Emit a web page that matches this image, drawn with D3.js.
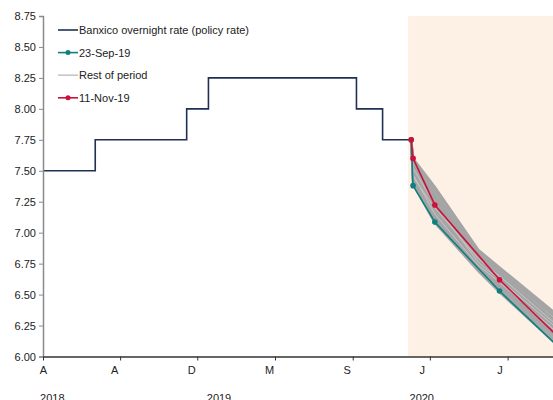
<!DOCTYPE html>
<html><head><meta charset="utf-8">
<script src="https://cdn.jsdelivr.net/npm/d3@7"></script>
<style>
html,body{margin:0;padding:0;background:#fff;}
svg{display:block;font-family:"Liberation Sans",Arial,sans-serif;}
</style></head>
<body><svg id="c" width="553" height="400"></svg>
<script>
// ---------- data ----------
const policyDates = ["2018-03-29","2018-06-21","2018-11-15","2018-12-20","2019-08-15","2019-09-26","2019-11-11"];
const policyRates = [7.50, 7.75, 8.00, 8.25, 8.00, 7.75, 7.75];

const fcDates = ["2019-11-11","2019-11-14","2019-12-19","2020-04-01","2020-09-30"];
const sep23Values = [7.75, 7.38, 7.086, 6.529, 5.663];
const nov11Values = [7.75, 7.60, 7.224, 6.62, 5.73];

const restDates = ["2019-11-11","2019-11-14","2019-12-19","2020-02-27","2020-04-01","2020-09-30"];
const restSeries = [
  [7.75, 7.60, 7.37, 6.86, 6.72, 5.97],
  [7.75, 7.59, 7.35, 6.85, 6.71, 5.96],
  [7.75, 7.58, 7.34, 6.84, 6.70, 5.95],
  [7.75, 7.56, 7.31, 6.82, 6.69, 5.93],
  [7.75, 7.55, 7.29, 6.80, 6.67, 5.90],
  [7.75, 7.54, 7.28, 6.79, 6.665, 5.89],
  [7.75, 7.53, 7.26, 6.78, 6.66, 5.88],
  [7.75, 7.51, 7.24, 6.77, 6.64, 5.86],
  [7.75, 7.50, 7.21, 6.75, 6.63, 5.84],
  [7.75, 7.49, 7.20, 6.745, 6.62, 5.83],
  [7.75, 7.48, 7.19, 6.74, 6.61, 5.82],
  [7.75, 7.46, 7.16, 6.73, 6.59, 5.79],
  [7.75, 7.44, 7.14, 6.72, 6.58, 5.77],
  [7.75, 7.43, 7.13, 6.715, 6.57, 5.755],
  [7.75, 7.42, 7.12, 6.71, 6.56, 5.74],
  [7.75, 7.40, 7.10, 6.70, 6.54, 5.71],
  [7.75, 7.39, 7.08, 6.69, 6.52, 5.68]
];
const restLight = [
  [7.75, 7.45, 7.20, 6.79, 6.65, 5.87],
  [7.75, 7.52, 7.23, 6.76, 6.62, 5.85],
  [7.75, 7.47, 7.15, 6.735, 6.60, 5.80]
];

const shadeStart = "2019-11-06";
const xDomain = ["2018-03-29","2020-06-26"];
const yTicks = [6.00, 6.25, 6.50, 6.75, 7.00, 7.25, 7.50, 7.75, 8.00, 8.25, 8.50, 8.75];
const xTickDates = ["2018-03-29","2018-07-31","2018-12-02","2019-04-06","2019-08-09","2019-12-11","2020-04-14"];
const xTickLabels = ["A","A","D","M","S","J","J"];
const yearLabelDates = ["2018-04-13","2019-01-06","2019-11-28"];
const yearLabels = ["2018","2019","2020"];
const legendLabels = ["Banxico overnight rate (policy rate)","23-Sep-19","Rest of period","11-Nov-19"];

// ---------- chart ----------
const parse = d3.timeParse("%Y-%m-%d");
const svg = d3.select("#c");
const L = 43, R = 553, T = 16, B = 356.5;

const x = d3.scaleTime().domain(xDomain.map(parse)).range([L, R]);
const y = d3.scaleLinear().domain([6, 8.75]).range([B, T]);

const C = {policy:"#1f3052", teal:"#0f7f80", red:"#cc0f3d", gray:"#a5a5a5", light:"#c6c6c6", shade:"#fdf1e5"};

svg.append("defs").append("clipPath").attr("id","clip")
  .append("rect").attr("x", L).attr("y", T - 5).attr("width", R - L).attr("height", B - T + 5);

// shading
svg.append("rect")
  .attr("x", x(parse(shadeStart))).attr("y", y(8.75))
  .attr("width", R - x(parse(shadeStart))).attr("height", y(6) - y(8.75))
  .attr("fill", C.shade);

const g = svg.append("g").attr("clip-path","url(#clip)");

// policy rate
const policyData = policyDates.map((d,i)=>({d:parse(d), v:policyRates[i]}));
g.append("path").datum(policyData)
  .attr("fill","none").attr("stroke",C.policy).attr("stroke-width",1.6)
  .attr("d", d3.line().x(p=>x(p.d)).y(p=>y(p.v)).curve(d3.curveStepAfter));

const line = d3.line().x(p=>x(p.d)).y(p=>y(p.v));
const toPts = (dates, vals) => dates.map((d,i)=>({d:parse(d), v:vals[i]}));

// rest of period
restSeries.forEach(s=>{
  g.append("path").datum(toPts(restDates, s))
    .attr("fill","none").attr("stroke",C.gray).attr("stroke-width",2.4).attr("d", line);
});
restLight.forEach(s=>{
  g.append("path").datum(toPts(restDates, s))
    .attr("fill","none").attr("stroke",C.light).attr("stroke-width",1).attr("d", line);
});

function series(vals, color){
  const pts = toPts(fcDates, vals);
  g.append("path").datum(pts).attr("fill","none").attr("stroke",color).attr("stroke-width",1.6).attr("d", line);
  g.selectAll(null).data(pts).enter().append("circle")
    .attr("cx",p=>x(p.d)).attr("cy",p=>y(p.v)).attr("r",2.8).attr("fill",color);
}
series(sep23Values, C.teal);
series(nov11Values, C.red);

// y axis
const yAxis = svg.append("g").attr("transform",`translate(${L},0)`)
  .call(d3.axisLeft(y).tickValues(yTicks).tickFormat(d3.format(".2f")).tickSize(4).tickPadding(3));
yAxis.select(".domain").attr("stroke","#8a8a8a").attr("stroke-width",1.5);
yAxis.selectAll(".tick line").attr("stroke","#8a8a8a");
yAxis.selectAll("text").attr("font-size",11).attr("fill","#222").attr("font-family","Liberation Sans, Arial, sans-serif");

// x axis
const xAxis = svg.append("g").attr("transform",`translate(0,${B})`)
  .call(d3.axisBottom(x).tickValues(xTickDates.map(parse)).tickFormat((d,i)=>xTickLabels[i]).tickSize(4).tickSizeOuter(0).tickPadding(6));
xAxis.select(".domain").attr("stroke","#333").attr("stroke-width",1.3);
xAxis.selectAll(".tick line").attr("stroke","#333");
xAxis.selectAll("text").attr("font-size",11).attr("fill","#222")
  .attr("font-family","Liberation Sans, Arial, sans-serif")
  .attr("dx",(d,i)=> i===0 ? 0 : (i>=5 ? -8 : -6));

// year labels (cut off at the bottom edge, as in the reference)
svg.selectAll(".yr").data(yearLabels).enter().append("text")
  .attr("x",(d,i)=>x(parse(yearLabelDates[i]))).attr("y",402)
  .attr("text-anchor","middle").attr("font-size",11).attr("fill","#222").text(d=>d);

// legend
const legColors = [C.policy, C.teal, C.light, C.red];
const legMarker = [false, true, false, true];
const lg = svg.append("g");
legendLabels.forEach((t,i)=>{
  const yy = 30 + i*22.6;
  lg.append("line").attr("x1",58).attr("x2",78).attr("y1",yy).attr("y2",yy)
    .attr("stroke",legColors[i]).attr("stroke-width",1.6);
  if(legMarker[i]) lg.append("circle").attr("cx",68).attr("cy",yy).attr("r",2.5).attr("fill",legColors[i]);
  lg.append("text").attr("x",79).attr("y",yy+4).attr("font-size",11).attr("fill","#222").text(t);
});
</script></body></html>
